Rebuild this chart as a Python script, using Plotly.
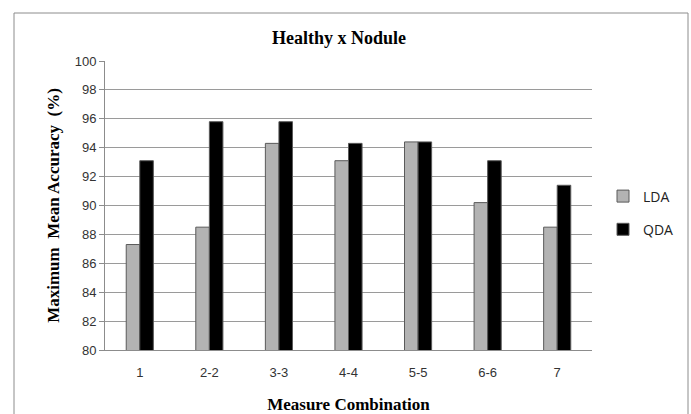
import plotly.graph_objects as go

categories = ["1", "2-2", "3-3", "4-4", "5-5", "6-6", "7"]
lda = [87.3, 88.5, 94.3, 93.1, 94.4, 90.2, 88.5]
qda = [93.1, 95.8, 95.8, 94.3, 94.4, 93.1, 91.4]
yticks = [80, 82, 84, 86, 88, 90, 92, 94, 96, 98, 100]

L, R, T, B = 105, 99, 61, 64
W, H = 691, 414
pw, ph = W - L - R, H - T - B

def px(x):
    return (x - L) / pw

def py(y):
    return (H - B - y) / ph

fig = go.Figure()
fig.add_trace(go.Bar(x=categories, y=lda, name="LDA", legendgroup="a",
                     marker=dict(color="#b3b3b3", line=dict(color="#5a5a5a", width=1))))
fig.add_trace(go.Bar(x=categories, y=qda, name="QDA", legendgroup="b",
                     marker=dict(color="#000000", line=dict(color="#5a5a5a", width=1))))

fig.update_layout(
    width=W, height=H,
    margin=dict(l=L, r=R, t=T, b=B, autoexpand=False),
    paper_bgcolor="white", plot_bgcolor="white",
    barmode="group", bargap=0.61, bargroupgap=0,
    title=dict(text="<b>Healthy x Nodule</b>", x=px(344), xanchor="center",
               y=1 - 38 / H, yanchor="middle",
               font=dict(family="Liberation Serif", size=18, color="#000")),
    showlegend=True,
    legend=dict(x=px(603), y=py(213), xanchor="left", yanchor="middle",
                traceorder="grouped", tracegroupgap=12, itemwidth=30,
                font=dict(family="Open Sans", size=14, color="#222"),
                bgcolor="rgba(0,0,0,0)"),
    xaxis=dict(
        title=dict(text="<b>Measure Combination</b>", standoff=20,
                   font=dict(family="Liberation Serif", size=17, color="#000")),
        showline=True, linecolor="#8c8c8c", linewidth=1,
        showgrid=False, ticks="outside", ticklen=10, tickcolor="rgba(0,0,0,0)",
        tickfont=dict(family="Liberation Sans", size=13, color="#333"),
        fixedrange=True,
    ),
    yaxis=dict(
        title=dict(text="<b>Maximum  Mean Accuracy  (%)</b>", standoff=10,
                   font=dict(family="Liberation Serif", size=17, color="#000")),
        range=[80, 100], tickvals=yticks,
        showline=True, linecolor="#8c8c8c", linewidth=1,
        ticks="outside", ticklen=5, tickcolor="#8c8c8c",
        showgrid=True, gridcolor="#9a9a9a", gridwidth=1,
        tickfont=dict(family="Liberation Sans", size=13, color="#333"),
        zeroline=False, fixedrange=True,
    ),
    shapes=[dict(type="rect", xref="paper", yref="paper",
                 x0=px(14), x1=px(688), y0=py(430), y1=py(13),
                 line=dict(color="#8c8c8c", width=1), fillcolor="rgba(0,0,0,0)",
                 layer="below")],
)

fig.write_html("out.html", config={"displayModeBar": False},
               post_script="document.body.style.margin='0';")
